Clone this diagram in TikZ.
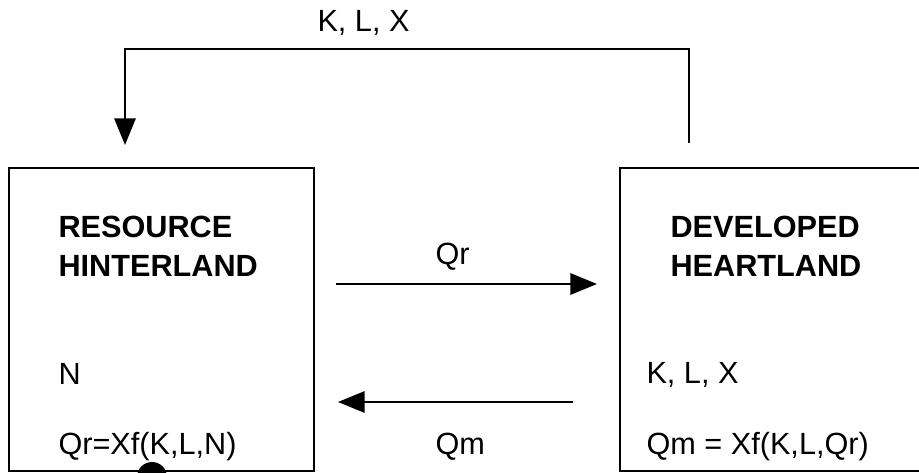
\documentclass[tikz,border=0pt]{standalone}
\usepackage{fontspec}
\setmainfont{Liberation Sans}
\usetikzlibrary{arrows.meta}

\tikzset{every picture/.style={line width=0.75pt}}
\tikzset{
  regionbox/.style={draw, line width=1.5pt, inner sep=0pt},
  flow/.style={line width=1.5pt, -{Triangle[length=20pt,width=16pt]}},
  lbl/.style={anchor=base west, inner sep=0pt, font=\fontsize{23pt}{27pt}\selectfont},
  title/.style={lbl, font=\fontsize{23pt}{27pt}\selectfont\bfseries}
}

\begin{document}
\begin{tikzpicture}[x=0.75pt,y=0.75pt,yscale=-1,xscale=1]
\clip (0,0) rectangle (919,473);

%Shape: Rectangle [resource hinterland]
\node [regionbox, minimum width=228.75pt, minimum height=227.25pt] (hinter) at (161.5,319.5) {};
%Shape: Rectangle [developed heartland]
\node [regionbox, minimum width=232.5pt, minimum height=227.25pt] (heart) at (775,319.5) {};
%Shape: Circle
\fill (152,477) circle (11.25pt);

% Text Node
\node [title] (resA) at (58,238) {RESOURCE};
% Text Node
\node [title] (resB) at (58,277) {HINTERLAND};
% Text Node
\node [lbl] (resN) at (58,384) {N};
% Text Node
\node [lbl] (resQ) at (58,454) {Qr=Xf(K,L,N)};

% Text Node
\node [title] (devA) at (670,238) {DEVELOPED};
% Text Node
\node [title] (devB) at (670,277) {HEARTLAND};
% Text Node
\node [lbl] (devK) at (646,383) {K, L, X};
% Text Node
\node [lbl] (devQ) at (646,454) {Qm = Xf(K,L,Qr)};

% Text Node
\node [lbl] (topK) at (317,32) {K, L, X};
% Text Node
\node [lbl] (qrLbl) at (435,265) {Qr};
% Text Node
\node [lbl] (qmLbl) at (435,454) {Qm};

%Straight Lines [Qr flow]
\coordinate (qrFrom) at (336,284);
\coordinate (qrTo) at (597,284);
\draw [flow] (qrFrom) -- (qrTo);
%Straight Lines [Qm flow]
\coordinate (qmFrom) at (573,402);
\coordinate (qmTo) at (338,402);
\draw [flow] (qmFrom) -- (qmTo);
%Straight Lines [K, L, X back flow]
\coordinate (backFrom) at (689,143);
\coordinate (backTo) at (125,145);
\draw [flow] (backFrom) -- (689,49) -- (125,49) -- (backTo);

\end{tikzpicture}
\end{document}
